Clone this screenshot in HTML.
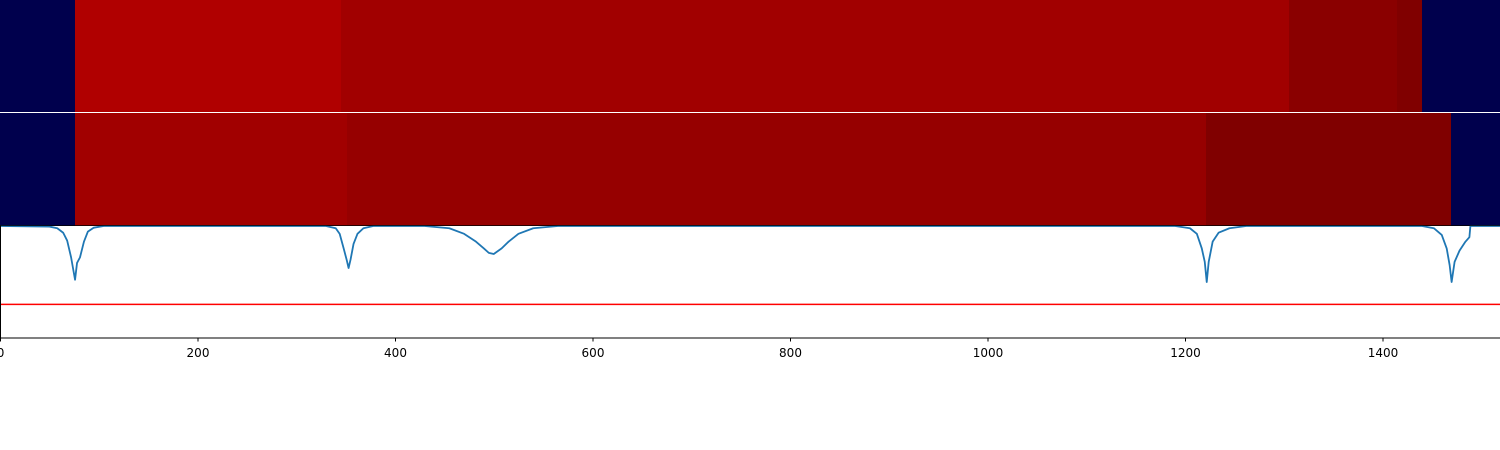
<!DOCTYPE html>
<html><head><meta charset="utf-8"><style>
html,body{margin:0;padding:0;background:#fff;width:1500px;height:450px;overflow:hidden}
svg{display:block;font-family:"DejaVu Sans","Liberation Sans",sans-serif}
</style></head><body>
<svg id="chart" width="1500" height="450" viewBox="0 0 1500 450"></svg>
<script>
const xTicks=[0,200,400,600,800,1000,1200,1400];
const row1Edges=[0,76,345,1305,1415,1440,1519];
const row1Values=[0,0.905,0.935,0.98,1.0,0];
const row2Edges=[0,76,351,1221,1469,1519];
const row2Values=[0,0.935,0.955,1.0,0];
const lineX=[0,50,58,64,68,72,76,78,81,85,89,95,105,330,340,344,348,351,353,355,358,362,368,378,430,455,470,482,490,495,500,508,515,525,540,565,1190,1205,1212,1217,1220,1222,1224,1228,1234,1245,1262,1440,1452,1460,1465,1468,1470,1473,1478,1484,1487,1488,1489,1519];
const lineY=[0,-0.005,-0.02,-0.06,-0.13,-0.28,-0.48,-0.33,-0.28,-0.14,-0.05,-0.015,0,0,-0.02,-0.07,-0.2,-0.3,-0.375,-0.3,-0.16,-0.07,-0.02,0,0,-0.02,-0.07,-0.14,-0.2,-0.24,-0.25,-0.2,-0.14,-0.07,-0.02,0,0,-0.02,-0.07,-0.2,-0.32,-0.5,-0.32,-0.14,-0.06,-0.02,0,0,-0.02,-0.08,-0.2,-0.35,-0.5,-0.32,-0.22,-0.14,-0.11,-0.1,0,0];
const threshold=[-0.7];
const NS="http://www.w3.org/2000/svg";
const svg=document.getElementById('chart');
const xs=v=>v*0.9875;
const ys=v=>226+(-v)*112;
function seismic(t){
  if(t<=0.001) return 'rgb(0,0,77)';
  const r=t>=0.75?Math.round(255*(1-(Math.min(t,1)-0.75)/0.25*0.5)):255;
  return `rgb(${r},0,0)`;
}
function mk(tag,attrs){const e=document.createElementNS(NS,tag);for(const k in attrs)e.setAttribute(k,attrs[k]);svg.appendChild(e);return e;}
function row(edges,vals,y0,h,name){
  for(let i=0;i<vals.length;i++){
    const r=mk('rect',{x:Math.round(xs(edges[i])),y:y0,width:Math.round(xs(edges[i+1]))-Math.round(xs(edges[i])),height:h,fill:seismic(vals[i]),'shape-rendering':'crispEdges'});
    
    
  }
}
row(row1Edges,row1Values,0,112,'heatmap-row1');
row(row2Edges,row2Values,113,113,'heatmap-row2');
const th=mk('line',{x1:0,x2:1500,y1:ys(threshold[0]),y2:ys(threshold[0]),stroke:'#ff0000','stroke-width':1.5});


let d='';lineX.forEach((x,i)=>{d+=(i?'L':'M')+xs(x).toFixed(2)+','+ys(lineY[i]).toFixed(2);});
const p=mk('path',{d:d,fill:'none',stroke:'#1f77b4','stroke-width':1.8,'stroke-linejoin':'round'});


const la=mk('line',{x1:0.5,x2:0.5,y1:225.5,y2:338,stroke:'#000','stroke-width':1});


const ba=mk('line',{x1:0,x2:1500,y1:338,y2:338,stroke:'#000','stroke-width':1});


const ta=mk('line',{x1:0,x2:1500,y1:225.5,y2:225.5,stroke:'#000','stroke-width':0.8});


xTicks.forEach(t=>{
  const tk=mk('line',{x1:xs(t)+0.5,x2:xs(t)+0.5,y1:338,y2:341.5,stroke:'#000','stroke-width':1});
  
  
  const tx=mk('text',{x:xs(t)+0.5,y:357,'font-size':12,'text-anchor':'middle',fill:'#000'});
  tx.textContent=t;
  
  
});
</script>
</body></html>
